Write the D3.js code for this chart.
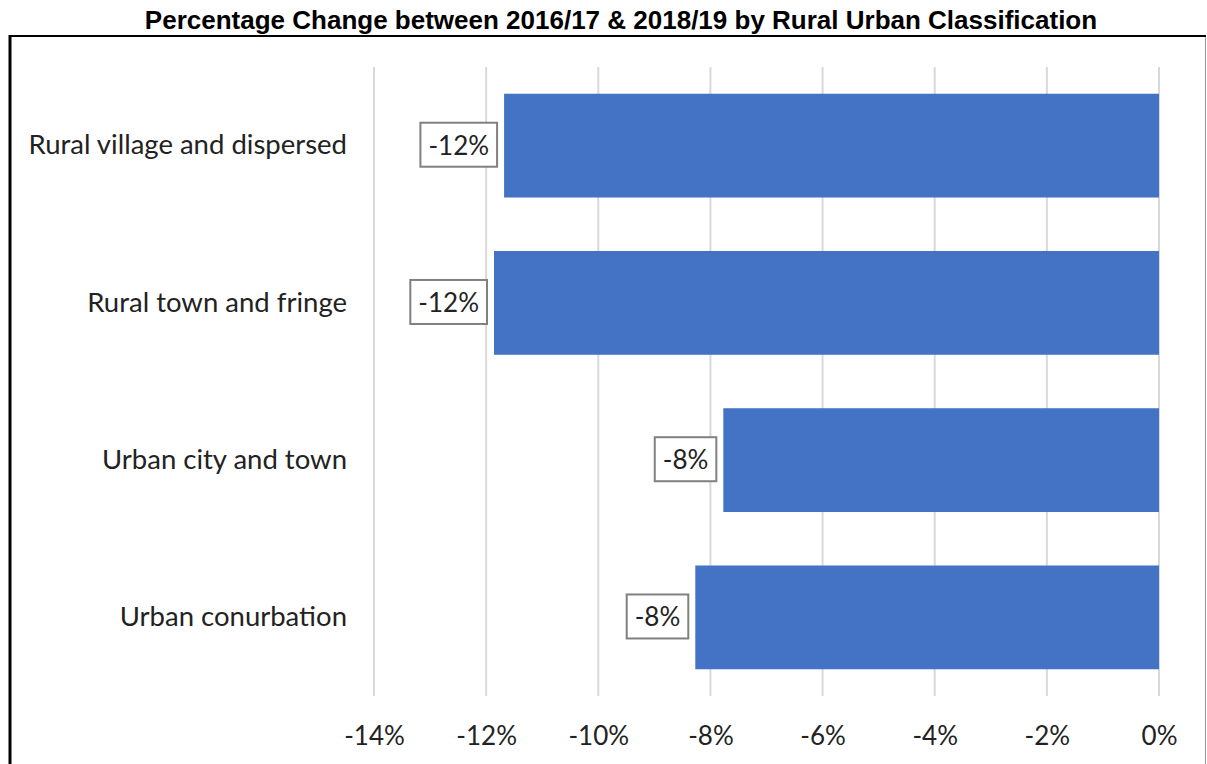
<!DOCTYPE html>
<html>
<head>
<meta charset="utf-8">
<script src="https://cdn.jsdelivr.net/npm/d3@7"></script>
<style>
  body { margin: 0; background: #fff; }
  svg { display: block; }
</style>
</head>
<body>
<div id="chart"></div>
<script>
// data
var categories = ["Rural village and dispersed", "Rural town and fringe", "Urban city and town", "Urban conurbation"];
var values = [-11.68, -11.86, -7.77, -8.27];
var labels = ["-12%", "-12%", "-8%", "-8%"];
var tickValues = [-14, -12, -10, -8, -6, -4, -2, 0];

var W = 1207, H = 764;
var margin = {top: 67, right: 48, bottom: 68, left: 374};

var svg = d3.select("#chart").append("svg")
    .attr("width", W)
    .attr("height", H);

// frame
svg.append("line")
    .attr("x1", 9).attr("x2", 1206).attr("y1", 36).attr("y2", 36)
    .attr("stroke", "#000").attr("stroke-width", 2);
svg.append("line")
    .attr("x1", 10).attr("x2", 10).attr("y1", 35).attr("y2", H)
    .attr("stroke", "#000").attr("stroke-width", 3);
svg.append("line")
    .attr("x1", 1205.5).attr("x2", 1205.5).attr("y1", 37).attr("y2", H)
    .attr("stroke", "#999").attr("stroke-width", 1);

// title
svg.append("text")
    .attr("x", 621).attr("y", 29)
    .attr("text-anchor", "middle")
    .style("font-family", "Liberation Sans, Arial, sans-serif")
    .style("font-weight", "bold")
    .style("font-size", "26px")
    .text("Percentage Change between 2016/17 & 2018/19 by Rural Urban Classification");

var x = d3.scaleLinear()
    .domain([-14, 0])
    .range([margin.left, W - margin.right]);

var y = d3.scaleBand()
    .domain(categories)
    .range([margin.top, H - margin.bottom])
    .paddingInner(0.34)
    .paddingOuter(0.17);

// gridlines
svg.append("g")
    .selectAll("line")
    .data(tickValues)
    .enter().append("line")
    .attr("x1", d => x(d)).attr("x2", d => x(d))
    .attr("y1", margin.top).attr("y2", H - margin.bottom)
    .attr("stroke", "#d9d9d9")
    .attr("stroke-width", 2);

// x axis labels
var xAxis = svg.append("g")
    .attr("transform", "translate(0," + (H - margin.bottom) + ")")
    .call(d3.axisBottom(x)
      .tickValues(tickValues)
      .tickFormat(d => d + "%")
      .tickSize(0)
      .tickPadding(31));
xAxis.select(".domain").remove();
xAxis.selectAll("text")
    .style("font-family", "Lato, sans-serif")
    .style("font-size", "26px")
    .attr("fill", "#222");

// category labels
var yAxis = svg.append("g")
    .attr("transform", "translate(" + 347 + ",0)")
    .call(d3.axisLeft(y).tickSize(0).tickPadding(0));
yAxis.select(".domain").remove();
yAxis.selectAll("text")
    .style("font-family", "Lato, sans-serif")
    .style("font-size", "27.5px")
    .attr("fill", "#222");

// bars
svg.selectAll(".bar")
    .data(values)
    .enter().append("rect")
    .attr("class", "bar")
    .attr("x", d => x(d))
    .attr("y", (d, i) => y(categories[i]))
    .attr("width", d => x(0) - x(d))
    .attr("height", y.bandwidth())
    .attr("fill", "#4472c4");

// data labels
var lab = svg.selectAll(".lab")
    .data(values)
    .enter().append("g")
    .attr("class", "lab");

lab.append("text")
    .attr("x", d => x(d) - 15)
    .attr("y", (d, i) => y(categories[i]) + y.bandwidth() / 2)
    .attr("dy", "0.35em")
    .attr("text-anchor", "end")
    .style("font-family", "Lato, sans-serif")
    .style("font-size", "26px")
    .attr("fill", "#222")
    .text((d, i) => labels[i]);

lab.each(function() {
  var g = d3.select(this);
  var bb = g.select("text").node().getBBox();
  g.insert("rect", "text")
    .attr("x", bb.x - 8)
    .attr("y", bb.y - 6)
    .attr("width", bb.width + 16)
    .attr("height", bb.height + 12)
    .attr("fill", "#fff")
    .attr("stroke", "#808080")
    .attr("stroke-width", 2);
});
</script>
</body>
</html>
